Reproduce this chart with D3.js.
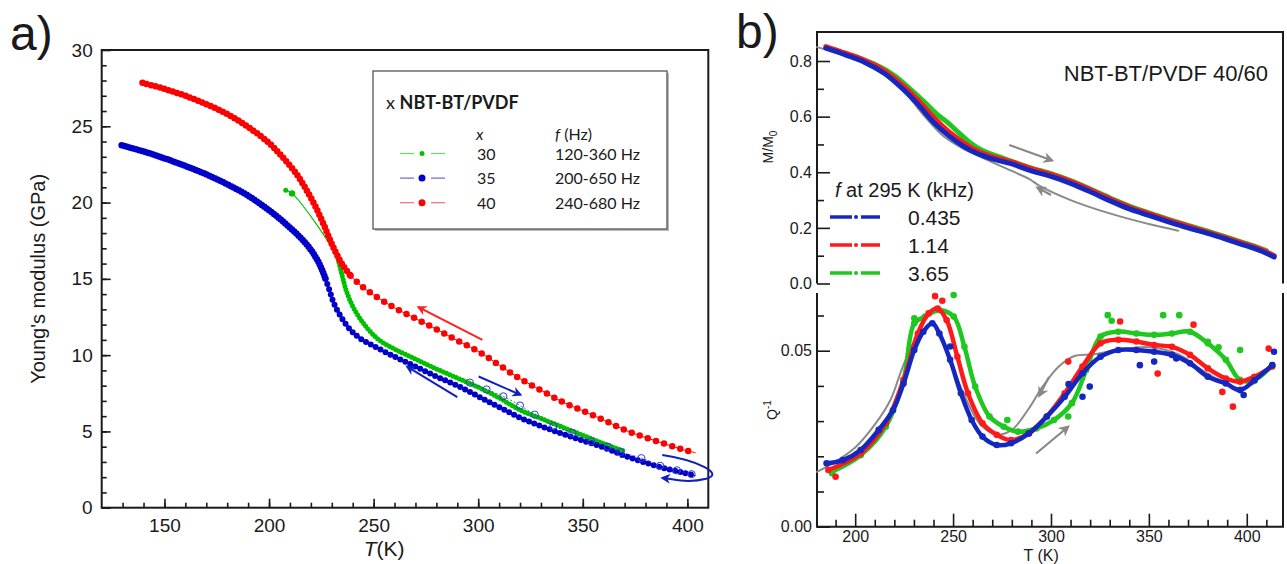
<!DOCTYPE html>
<html>
<head>
<meta charset="utf-8">
<script src="https://cdn.jsdelivr.net/npm/d3@7"></script>
<style>
body { margin: 0; background: #fff; }
svg text { font-family: "Liberation Sans", Arial, sans-serif; fill: #1a1a1a; }
.leg text { font-family: Lato, "Open Sans", sans-serif; }
.frame { fill: none; stroke: #1a1a1a; stroke-width: 2; }
.tick line { stroke: #1a1a1a; stroke-width: 1.6; }
</style>
</head>
<body>
<div class="app"></div>
<script>
'use strict'

var width = 1287;
var height = 564;

// ---------- panel a : Young's modulus vs T ----------
var aTicksX = [150, 200, 250, 300, 350, 400];
var aTicksY = [0, 5, 10, 15, 20, 25, 30];

// x = 40, cooling
var red40 = [
  [139.5, 27.85], [150, 27.45], [160, 27.0], [170, 26.45], [180, 25.8], [190, 24.95],
  [200, 23.9], [207, 22.9], [213, 21.9], [218, 20.8], [222, 19.8], [226, 18.6],
  [229, 17.6], [232, 16.7], [235, 15.95], [239, 15.2], [244, 14.55], [250, 13.95],
  [260, 13.1], [270, 12.4], [280, 11.7], [290, 10.95], [300, 10.25], [310, 9.35],
  [320, 8.45], [330, 7.7], [340, 6.95], [350, 6.35], [360, 5.75], [370, 5.1],
  [380, 4.6], [390, 4.15], [398, 3.8], [404, 3.6]
];
// x = 35, cooling (filled) and heating (open)
var blue35 = [
  [129.5, 23.75], [140, 23.35], [150, 22.9], [160, 22.4], [170, 21.85], [180, 21.2],
  [190, 20.45], [200, 19.5], [208, 18.6], [215, 17.7], [220, 16.9], [224, 16.0],
  [227, 15.0], [229, 14.2], [231, 13.4], [234, 12.6], [238, 11.8], [243, 11.15],
  [250, 10.6], [260, 9.9], [270, 9.25], [280, 8.6], [290, 8.0], [300, 7.3],
  [310, 6.6], [320, 5.9], [330, 5.35], [340, 4.85], [350, 4.4], [360, 3.95],
  [370, 3.4], [380, 2.95], [390, 2.55], [398, 2.3], [404, 2.1]
];
var blue35heat = [
  [296, 8.2], [304, 7.75], [312, 7.3], [320, 6.7], [327, 6.1], [336, 5.35], [345, 4.9],
  [354, 4.35], [362, 4.0], [368, 3.65], [378, 3.25], [387, 2.75], [395, 2.45], [402, 2.2]
];
// x = 30
var green30 = [
  [208, 20.8], [211, 20.6], [233, 16.3], [235, 15.2], [237, 14.2], [240, 13.2],
  [244, 12.3], [248, 11.6], [253, 10.95], [260, 10.4], [270, 9.75], [280, 9.1],
  [290, 8.5], [300, 7.9], [310, 7.2], [320, 6.4], [330, 5.85], [340, 5.3],
  [350, 4.75], [360, 4.2], [370, 3.7]
];
var legendA = [
  {x: "30", f: "120-360 Hz", color: "#00c000", r: 2.5},
  {x: "35", f: "200-650 Hz", color: "#0000c8", r: 3.5},
  {x: "40", f: "240-680 Hz", color: "#ff0000", r: 3.5}
];

// ---------- panel b : M/M0 and Q^-1 vs T ----------
var bTicksX = [200, 250, 300, 350, 400];
var bTicksM = [0, 0.2, 0.4, 0.6, 0.8];
var bTicksQ = [0, 0.05];

var mBlue = [
  [185, 0.846], [195, 0.822], [205, 0.795], [215, 0.755], [225, 0.695], [232, 0.645],
  [240, 0.58], [248, 0.53], [255, 0.495], [262, 0.468], [270, 0.448], [280, 0.43],
  [290, 0.405], [300, 0.385], [310, 0.36], [320, 0.33], [330, 0.298], [340, 0.268],
  [350, 0.245], [360, 0.222], [370, 0.2], [380, 0.18], [390, 0.158], [400, 0.135],
  [408, 0.115], [414, 0.095]
];
var mRed = [
  [185, 0.852], [195, 0.828], [205, 0.802], [215, 0.765], [225, 0.708], [232, 0.66],
  [240, 0.598], [248, 0.545], [255, 0.508], [262, 0.478], [270, 0.456], [280, 0.437],
  [290, 0.413], [300, 0.392], [310, 0.367], [320, 0.337], [330, 0.305], [340, 0.275],
  [350, 0.251], [360, 0.228], [370, 0.206], [380, 0.185], [390, 0.163], [400, 0.14],
  [408, 0.12], [414, 0.1]
];
var mGreen = [
  [190, 0.838], [200, 0.815], [210, 0.788], [220, 0.748], [228, 0.7], [235, 0.655],
  [242, 0.607], [247, 0.58], [252, 0.548], [258, 0.51], [265, 0.478], [275, 0.452],
  [290, 0.415], [300, 0.395], [310, 0.37], [320, 0.34], [330, 0.308], [340, 0.278],
  [350, 0.254], [360, 0.231], [370, 0.209], [380, 0.188], [390, 0.166], [400, 0.143],
  [410, 0.118]
];
var mGray = [
  [180.5, 0.85], [200, 0.805], [215, 0.75], [225, 0.69], [235, 0.605], [245, 0.53],
  [255, 0.485], [261, 0.465], [275, 0.42], [289, 0.375], [294, 0.352], [310, 0.3],
  [330, 0.252], [351, 0.212], [365, 0.19]
];

var qBlue = [
  [185.4, 0.018], [193.7, 0.0189], [202.8, 0.0218], [212, 0.0275], [219.3, 0.0331],
  [224.7, 0.0407], [230.2, 0.0502], [234.8, 0.0554], [239.4, 0.0578], [243, 0.0549],
  [248.5, 0.0474], [254, 0.0379], [259.5, 0.0303], [265, 0.0256], [272.3, 0.0232],
  [279.6, 0.0237], [288.7, 0.0265], [297.9, 0.0313], [307, 0.0369], [316.1, 0.0436],
  [325.3, 0.0483], [334.4, 0.0502], [343.6, 0.0502], [352.7, 0.0497], [361.8, 0.0488],
  [371, 0.0464], [380.1, 0.0426], [389.3, 0.0407], [396.6, 0.0388], [403.9, 0.0416],
  [413, 0.0459]
];
var qRed = [
  [186.3, 0.0161], [202.8, 0.0208], [215.6, 0.0294], [224.7, 0.0417], [232, 0.0549],
  [237.5, 0.0606], [242.1, 0.062], [246.7, 0.0587], [252.2, 0.0483], [257.6, 0.0379],
  [265, 0.0294], [272.3, 0.0261], [279.6, 0.0246], [288.7, 0.0265], [297.9, 0.0313],
  [307, 0.0379], [316.1, 0.0455], [325.3, 0.0521], [334.4, 0.0531], [343.6, 0.0526],
  [352.7, 0.0516], [361.8, 0.0511], [371, 0.0488], [380.1, 0.045], [389.3, 0.0421],
  [396.6, 0.0412], [403.9, 0.0426], [413, 0.0455]
];
var qGreen = [
  [188.2, 0.0156], [202.8, 0.0203], [215.6, 0.0284], [224.7, 0.0417], [230.2, 0.0578],
  [235.7, 0.0597], [243, 0.0615], [250.3, 0.0597], [255.8, 0.0511], [261.3, 0.0398],
  [268.6, 0.0313], [275.9, 0.0284], [283.2, 0.027], [292.4, 0.0279], [301.5, 0.0303],
  [310.7, 0.0351], [318, 0.0445], [325.3, 0.054], [334.4, 0.0554], [343.6, 0.0549],
  [352.7, 0.0545], [361.8, 0.0549], [371, 0.0554], [380.1, 0.0521], [389.3, 0.0474],
  [396.6, 0.0417], [403.9, 0.0417], [413, 0.0459]
];
// scattered single readings away from the main trace
var qBlueOut = [[352.7, 0.0469], [345.4, 0.0459], [316.1, 0.0369], [319.8, 0.0398], [398.4, 0.0374], [413.9, 0.0497], [248.5, 0.0512], [309, 0.0405], [364, 0.0478]];
var qRedOut = [[240.8, 0.0655], [335.3, 0.0583], [372.8, 0.0574], [392.9, 0.0341], [354.5, 0.0435], [411.2, 0.0506], [190, 0.0142], [308.8, 0.0469], [387.5, 0.0383], [244.5, 0.0642]];
var qGreenOut = [[250.3, 0.0658], [230.2, 0.0592], [329, 0.0601], [357.3, 0.0601], [365.5, 0.0601], [396.6, 0.0502], [308.8, 0.0313], [277.7, 0.0303], [380.1, 0.0525], [385.6, 0.051], [188.2, 0.0152], [331, 0.0585]];
var qGray = [
  [180.5, 0.0156], [190, 0.0185], [200, 0.0225], [210, 0.029], [218, 0.036], [224, 0.045],
  [230, 0.0525], [236, 0.0565], [240, 0.0575], [248, 0.048], [256, 0.037], [264, 0.029],
  [272, 0.0262], [280, 0.0275], [288, 0.033], [296, 0.04], [304, 0.0455], [312, 0.0485],
  [322, 0.049], [334, 0.0502], [350, 0.051], [365, 0.049], [380, 0.0435], [395, 0.0395],
  [405, 0.041]
];
var legendB = [
  {f: "0.435", color: "#1428c0"},
  {f: "1.14", color: "#ff1a1a"},
  {f: "3.65", color: "#1ec81e"}
];

var svg = d3.select(".app").append("svg")
  .attr("width", width).attr("height", height);

var defs = svg.append("defs");
function arrowMarker(id, color) {
  defs.append("marker").attr("id", id)
    .attr("viewBox", "0 0 10 10").attr("refX", 8).attr("refY", 5)
    .attr("markerWidth", 5).attr("markerHeight", 5).attr("orient", "auto")
    .append("path").attr("d", "M0,0 L10,5 L0,10 L3,5 Z").attr("fill", color);
}
arrowMarker("arRed", "#ff2020");
arrowMarker("arBlue", "#1020c0");
arrowMarker("arGray", "#888");

// inward ticks, no domain path; label size set after the axis call
function drawAxis(g, axis, fs) {
  g.call(axis);
  g.select(".domain").remove();
  g.attr("font-family", null).attr("font-size", fs || 10);
  g.selectAll(".tick text").attr("fill", "#1a1a1a");
}

// ======== panel a ========
var xa = d3.scaleLinear().domain([120, 410]).range([101.7, 708.3]);
var ya = d3.scaleLinear().domain([0, 30]).range([507.7, 50]);
var ga = svg.append("g");

drawAxis(ga.append("g").attr("transform", "translate(0," + ya(0) + ")"),
  d3.axisBottom(xa).tickValues(d3.range(130, 410, 10)).tickSize(-5).tickFormat(""));
drawAxis(ga.append("g").attr("transform", "translate(0," + ya(0) + ")"),
  d3.axisBottom(xa).tickValues(aTicksX).tickSize(-9).tickPadding(11), 19);
drawAxis(ga.append("g").attr("transform", "translate(" + xa(120) + ",0)"),
  d3.axisLeft(ya).tickValues(d3.range(1, 30, 1)).tickSize(-5).tickFormat(""));
drawAxis(ga.append("g").attr("transform", "translate(" + xa(120) + ",0)"),
  d3.axisLeft(ya).tickValues(aTicksY).tickSize(-9).tickPadding(9), 19);

ga.append("rect").attr("class", "frame")
  .attr("x", xa(120)).attr("y", ya(30))
  .attr("width", xa(410) - xa(120)).attr("height", ya(0) - ya(30));

var lineA = d3.line().curve(d3.curveCatmullRom)
  .x(function(d) { return xa(d[0]); })
  .y(function(d) { return ya(d[1]); });

function dotted(g, data, color, w, gap) {
  g.append("path").attr("d", lineA(data)).attr("fill", "none")
    .attr("stroke", color).attr("stroke-width", w)
    .attr("stroke-linecap", "round").attr("stroke-dasharray", "0," + gap);
}

// green x=30
ga.append("path").attr("d", lineA(green30)).attr("fill", "none")
  .attr("stroke", "#00c000").attr("stroke-width", 1.2);
dotted(ga, green30.filter(function(d) { return d[0] >= 233; }), "#00c000", 5, 3.5);
ga.selectAll(".g30").data(green30.slice(0, 2)).enter().append("circle")
  .attr("cx", function(d) { return xa(d[0]); }).attr("cy", function(d) { return ya(d[1]); })
  .attr("r", function(d, i) { return i ? 3.2 : 2.5; }).attr("fill", "#00c000");

// blue x=35
ga.append("path").attr("d", lineA(blue35)).attr("fill", "none")
  .attr("stroke", "#0000c8").attr("stroke-width", 1);
dotted(ga, blue35.filter(function(d) { return d[0] <= 227; }), "#0000c8", 6.5, 3);
dotted(ga, blue35.filter(function(d) { return d[0] >= 227; }), "#0000c8", 6, 5.5);
ga.append("path").attr("d", lineA(blue35heat)).attr("fill", "none")
  .attr("stroke", "#3040d0").attr("stroke-width", 0.8).attr("stroke-dasharray", "2,2");
ga.selectAll(".b35h").data(blue35heat).enter().append("circle")
  .attr("cx", function(d) { return xa(d[0]); }).attr("cy", function(d) { return ya(d[1]); })
  .attr("r", 3.6).attr("fill", "none").attr("stroke", "#3040d0").attr("stroke-width", 1);

// red x=40
ga.append("path").attr("d", lineA(red40)).attr("fill", "none")
  .attr("stroke", "#ff0000").attr("stroke-width", 1);
dotted(ga, red40.filter(function(d) { return d[0] <= 239; }), "#ff0000", 6.5, 4.5);
dotted(ga, red40.filter(function(d) { return d[0] >= 239; }), "#ff0000", 6.5, 8.5);

// arrows (positions in data units)
function arrowA(t0, e0, t1, e1, color, id) {
  ga.append("line").attr("x1", xa(t0)).attr("y1", ya(e0)).attr("x2", xa(t1)).attr("y2", ya(e1))
    .attr("stroke", color).attr("stroke-width", 2).attr("marker-end", "url(#" + id + ")");
}
arrowA(302, 11.0, 271.4, 13.15, "#ff2020", "arRed");
arrowA(290, 7.25, 266, 9.25, "#1020c0", "arBlue");
arrowA(300.2, 8.6, 320.2, 7.4, "#1020c0", "arBlue");
ga.append("path")
  .attr("d", "M" + xa(388) + "," + ya(3.45) +
    " C" + xa(405) + "," + ya(3.1) + " " + xa(418) + "," + ya(2.2) + " " + xa(409) + "," + ya(1.9) +
    " S" + xa(395) + "," + ya(1.85) + " " + xa(388) + "," + ya(1.95))
  .attr("fill", "none").attr("stroke", "#1020c0").attr("stroke-width", 2)
  .attr("marker-end", "url(#arBlue)");

// axis titles
svg.append("text").attr("x", 10).attr("y", 50).attr("font-size", 48).text("a)");
svg.append("text").attr("transform", "translate(45," + ya(15) + ") rotate(-90)")
  .attr("text-anchor", "middle").attr("font-size", 20).text("Young's modulus (GPa)");
var tl = svg.append("text").attr("x", xa(255)).attr("y", 556).attr("text-anchor", "middle")
  .attr("font-size", 21);
tl.append("tspan").attr("font-style", "italic").text("T");
tl.append("tspan").text("(K)");

// legend a
var leg = svg.append("g").attr("class", "leg");
leg.append("rect").attr("x", 375).attr("y", 73).attr("width", 294).attr("height", 158).attr("fill", "#bbb");
leg.append("rect").attr("x", 373).attr("y", 71).attr("width", 294).attr("height", 158)
  .attr("fill", "#fff").attr("stroke", "#555").attr("stroke-width", 1.3);
var lt = leg.append("text").attr("x", 386).attr("y", 109).attr("font-size", 18).attr("font-weight", "bold");
lt.append("tspan").attr("font-weight", "normal").text("x ");
lt.append("tspan").text("NBT-BT/PVDF");
leg.append("text").attr("x", 476).attr("y", 140).attr("font-size", 16).attr("font-style", "italic").text("x");
var fh = leg.append("text").attr("x", 555).attr("y", 140).attr("font-size", 16);
fh.append("tspan").attr("font-style", "italic").text("f");
fh.append("tspan").text(" (Hz)");
legendA.forEach(function(d, i) {
  var y = 153.5 + i * 24.6;
  leg.append("line").attr("x1", 400).attr("x2", 414).attr("y1", y).attr("y2", y)
    .attr("stroke", d.color).attr("stroke-opacity", 0.6).attr("stroke-width", 1.2);
  leg.append("line").attr("x1", 431).attr("x2", 445).attr("y1", y).attr("y2", y)
    .attr("stroke", d.color).attr("stroke-opacity", 0.6).attr("stroke-width", 1.2);
  leg.append("circle").attr("cx", 422).attr("cy", y).attr("r", d.r).attr("fill", d.color);
  leg.append("text").attr("x", 477).attr("y", y + 6).attr("font-size", 16).text(d.x);
  leg.append("text").attr("x", 555).attr("y", y + 6).attr("font-size", 16).text(d.f);
});

// ======== panel b ========
var xb = d3.scaleLinear().domain([180.5, 418.5]).range([817, 1283]);
var yM = d3.scaleLinear().domain([0, 0.8]).range([283.5, 61]);
var yQ = d3.scaleLinear().domain([0, 0.05]).range([526.7, 350.7]);
var mTop = 32, qTop = 293;
var gb = svg.append("g");

// top panel frame and ticks
gb.append("path").attr("class", "frame")
  .attr("d", "M" + xb(180.5) + "," + yM(0) + "V" + mTop + "H" + xb(418.5) + "V" + yM(0));
drawAxis(gb.append("g").attr("transform", "translate(" + xb(180.5) + ",0)"),
  d3.axisLeft(yM).tickValues([0.1, 0.3, 0.5, 0.7]).tickSize(-7).tickFormat(""));
drawAxis(gb.append("g").attr("transform", "translate(" + xb(180.5) + ",0)"),
  d3.axisLeft(yM).tickValues(bTicksM).tickSize(-13).tickPadding(5).tickFormat(d3.format(".1f")), 16);

// bottom panel frame and ticks
gb.append("path").attr("class", "frame")
  .attr("d", "M" + xb(180.5) + "," + qTop + "V" + yQ(0) + "H" + xb(418.5) + "V" + qTop);
drawAxis(gb.append("g").attr("transform", "translate(" + xb(180.5) + ",0)"),
  d3.axisLeft(yQ).tickValues([0.01, 0.02, 0.03, 0.04, 0.06]).tickSize(-7).tickFormat(""));
drawAxis(gb.append("g").attr("transform", "translate(" + xb(180.5) + ",0)"),
  d3.axisLeft(yQ).tickValues(bTicksQ).tickSize(-13).tickPadding(5).tickFormat(d3.format(".2f")), 16);
drawAxis(gb.append("g").attr("transform", "translate(0," + yQ(0) + ")"),
  d3.axisBottom(xb).tickValues(d3.range(190, 420, 10).filter(function(v) { return v % 50; }))
    .tickSize(-7).tickFormat(""));
drawAxis(gb.append("g").attr("transform", "translate(0," + yQ(0) + ")"),
  d3.axisBottom(xb).tickValues(bTicksX).tickSize(-13).tickPadding(4), 16);

var lineM = d3.line().curve(d3.curveCatmullRom)
  .x(function(d) { return xb(d[0]); }).y(function(d) { return yM(d[1]); });
var lineQ = d3.line().curve(d3.curveCatmullRom)
  .x(function(d) { return xb(d[0]); }).y(function(d) { return yQ(d[1]); });

function thick(g, path, color, w) {
  g.append("path").attr("d", path).attr("fill", "none").attr("stroke", color)
    .attr("stroke-width", w).attr("stroke-linecap", "round").attr("stroke-linejoin", "round");
}
thick(gb, lineM(mGray), "#8a8a8a", 2);
thick(gb, lineM(mGreen), "#1ec81e", 5);
thick(gb, lineM(mRed), "#ff1a1a", 5);
thick(gb, lineM(mBlue), "#1428c0", 5);

function arrowB(x1, y1, x2, y2) {
  gb.append("line").attr("x1", x1).attr("y1", y1).attr("x2", x2).attr("y2", y2)
    .attr("stroke", "#888").attr("stroke-width", 2.2).attr("marker-end", "url(#arGray)");
}
arrowB(xb(278.7), yM(0.498), xb(300.6), yM(0.442));
arrowB(xb(300), yM(0.318), xb(293), yM(0.345));

var qSeries = [
  {line: qGreen, out: qGreenOut, color: "#1ec81e"},
  {line: qRed, out: qRedOut, color: "#ff1a1a"},
  {line: qBlue, out: qBlueOut, color: "#1428c0"}
];
thick(gb, lineQ(qGray), "#8a8a8a", 2);
qSeries.forEach(function(s) {
  thick(gb, lineQ(s.line), s.color, 4.5);
  gb.append("g").selectAll("circle").data(s.line.concat(s.out)).enter().append("circle")
    .attr("cx", function(d) { return xb(d[0]); }).attr("cy", function(d) { return yQ(d[1]); })
    .attr("r", 3.3).attr("fill", s.color);
});
arrowB(xb(292.4), yQ(0.0208), xb(308.8), yQ(0.0284));
arrowB(xb(299), yQ(0.0425), xb(294), yQ(0.0372));

// panel b texts
svg.append("text").attr("x", 736).attr("y", 48).attr("font-size", 48).text("b)");
svg.append("text").attr("x", 1268).attr("y", 81).attr("text-anchor", "end")
  .attr("font-size", 22).text("NBT-BT/PVDF 40/60");
var mm = svg.append("text").attr("transform", "translate(773,147) rotate(-90)")
  .attr("text-anchor", "middle").attr("font-size", 14);
mm.append("tspan").text("M/M");
mm.append("tspan").attr("font-size", 10).attr("dy", 4).text("0");
var qq = svg.append("text").attr("transform", "translate(777,410) rotate(-90)")
  .attr("text-anchor", "middle").attr("font-size", 14);
qq.append("tspan").text("Q");
qq.append("tspan").attr("font-size", 10).attr("dy", -6).text("-1");
svg.append("text").attr("x", xb(295)).attr("y", 561).attr("text-anchor", "middle")
  .attr("font-size", 16).text("T (K)");

var lb = svg.append("g");
var lbt = lb.append("text").attr("x", 835).attr("y", 197).attr("font-size", 20);
lbt.append("tspan").attr("font-style", "italic").text("f");
lbt.append("tspan").text(" at 295 K (kHz)");
legendB.forEach(function(d, i) {
  var y = 217 + i * 28;
  lb.append("line").attr("x1", 830).attr("x2", 852).attr("y1", y).attr("y2", y)
    .attr("stroke", d.color).attr("stroke-width", 3.5);
  lb.append("circle").attr("cx", 856).attr("cy", y).attr("r", 2).attr("fill", d.color);
  lb.append("line").attr("x1", 861).attr("x2", 880).attr("y1", y).attr("y2", y)
    .attr("stroke", d.color).attr("stroke-width", 3.5);
  lb.append("text").attr("x", 908).attr("y", y + 7.5).attr("font-size", 21).text(d.f);
});
</script>
</body>
</html>
